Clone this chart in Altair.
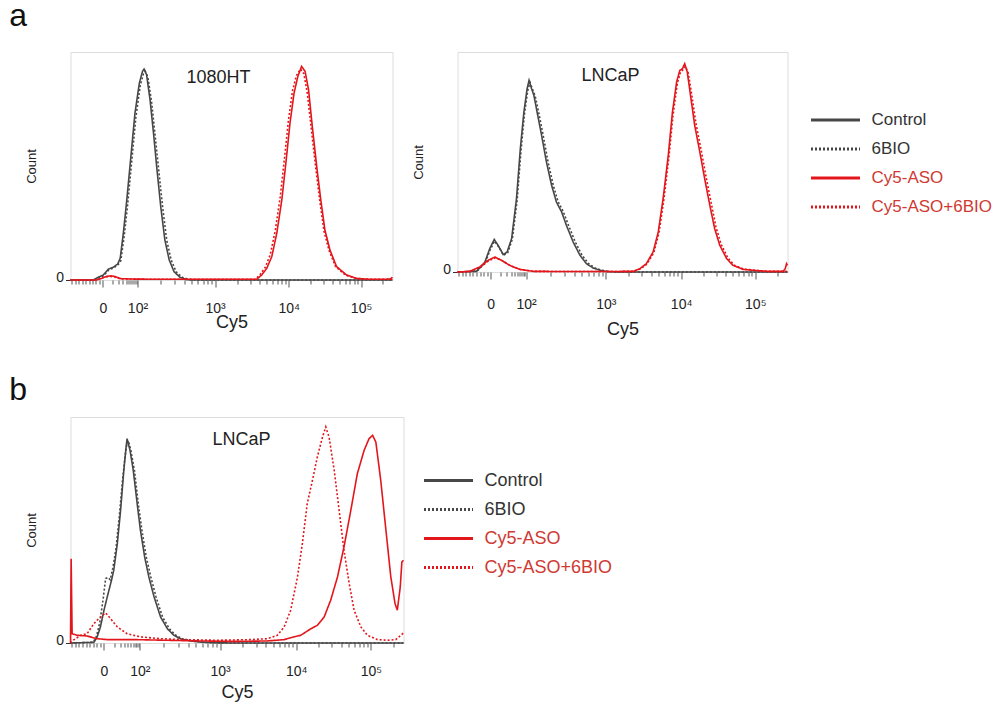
import math
import altair as alt
import pandas as pd

FONT = "Liberation Sans"
SERIES = ["Control", "6BIO", "Cy5-ASO", "Cy5-ASO+6BIO"]
COLORS = ["#474747", "#474747", "#e3161c", "#e3161c"]
DASHES = [[1, 0], [2, 2], [1, 0], [2, 2]]
LEGEND_TEXT_GRAY = "#333333"
LEGEND_TEXT_RED = "#cf3a34"

# x: display channel (0-1024, biexponential), y: count as % of panel height
MAJOR_POS = [103, 213, 460, 694, 924]
MAJOR_LBL = ["0", "10²", "10³", "10⁴", "10⁵"]

# ---------------- panel a, 1080HT ----------------
A1_CTRL_X = [0, 73, 88, 104, 120, 136, 150, 158, 168, 179, 191, 205, 219, 229, 234, 242, 253, 264, 274, 287, 300, 314, 329, 348, 370, 400, 1024]
A1_CTRL_Y = [0, 0, 1.2, 2.2, 4.7, 5.6, 7.0, 9.5, 20.5, 35.1, 52.7, 73.2, 86.4, 91.5, 92.5, 90, 79, 64.4, 49.8, 32.2, 17.6, 8.8, 3.7, 1.2, 0.1, 0, 0]
A1_6BIO_X = [0, 75, 90, 106, 122, 138, 152, 160, 171, 182, 194, 208, 222, 232, 238, 246, 258, 269, 280, 293, 306, 320, 336, 355, 378, 405, 1024]
A1_6BIO_Y = [0, 0, 1.0, 2.0, 4.4, 5.4, 6.8, 8.5, 19.5, 33.5, 51, 71.5, 85.5, 90.5, 91.5, 89, 78, 63.5, 49, 32, 17.5, 8.8, 3.6, 1.2, 0.2, 0, 0]
A1_ASO_X = [0, 83, 100, 115, 130, 142, 160, 200, 300, 400, 500, 592, 608, 624, 640, 656, 672, 686, 698, 711, 723, 735, 746, 757, 769, 783, 796, 809, 825, 846, 878, 910, 952, 1000, 1018, 1024]
A1_ASO_Y = [0, 0, 0.8, 1.6, 1.8, 1.5, 0.6, 0.4, 0.3, 0.3, 0.3, 0.3, 2.2, 5.1, 10.2, 20.5, 35.1, 52.7, 68.8, 82, 89.3, 93.7, 91.5, 83.5, 67.3, 49.8, 35.1, 22, 13.2, 5.9, 2.2, 0.7, 0.3, 0.3, 0.5, 1.2]
A1_ASO6_X = [0, 80, 97, 112, 127, 140, 158, 200, 300, 400, 500, 588, 603, 619, 635, 651, 667, 681, 693, 706, 718, 731, 742, 753, 766, 780, 793, 806, 822, 843, 875, 908, 950, 1000, 1024]
A1_ASO6_Y = [0, 0, 0.7, 1.4, 1.6, 1.3, 0.5, 0.4, 0.3, 0.3, 0.3, 0.3, 2.4, 5.5, 11, 21.5, 36.5, 54, 70, 83, 89.5, 92.5, 90.5, 82, 66, 49, 34.5, 21.5, 13, 5.8, 2.1, 0.7, 0.3, 0.3, 0.3]

# ---------------- panel a, LNCaP ----------------
A2_CTRL_X = [0, 59, 85, 100, 114, 126, 142, 154, 168, 183, 195, 206, 216, 222, 230, 237, 247, 261, 276, 292, 307, 323, 338, 359, 380, 400, 421, 442, 462, 500, 1024]
A2_CTRL_Y = [0, 0.3, 4.5, 10.6, 14.8, 12.1, 7.9, 9.1, 15.2, 33.3, 56.1, 72.7, 83.3, 87.1, 83.3, 80.3, 72.7, 62.1, 50, 39.4, 31.8, 27.3, 21.2, 13.6, 7.6, 3.8, 1.8, 0.8, 0.2, 0, 0]
A2_6BIO_X = [0, 60, 86, 101, 115, 127, 143, 156, 170, 185, 197, 208, 218, 225, 233, 241, 252, 266, 281, 297, 312, 328, 344, 365, 386, 406, 427, 448, 468, 505, 1024]
A2_6BIO_Y = [0, 0.3, 4.2, 10, 14, 11.6, 7.6, 8.8, 14.8, 32.5, 55, 72, 82.5, 86.2, 83, 80, 72.5, 62, 50, 39.5, 32, 27.5, 21.4, 13.8, 7.7, 3.9, 1.8, 0.8, 0.2, 0, 0]
A2_ASO_X = [0, 38, 69, 95, 116, 137, 162, 193, 235, 350, 450, 545, 566, 586, 607, 623, 638, 654, 667, 680, 690, 698, 705, 713, 723, 736, 752, 767, 783, 798, 814, 835, 855, 886, 917, 959, 1010, 1017, 1021, 1024]
A2_ASO_Y = [0, 0.3, 2.3, 5.3, 6.8, 5.3, 3.0, 1.2, 0.3, 0.2, 0.2, 0.3, 1.5, 3.8, 9.1, 18.2, 33.3, 53, 72.7, 86.4, 91.7, 92.4, 94.7, 90.9, 80.3, 66.7, 54.5, 42.4, 30.3, 19.7, 12.1, 6.1, 3.0, 1.2, 0.8, 0.3, 0.3, 1.5, 3.8, 3.0]
A2_ASO6_X = [0, 40, 71, 97, 118, 139, 164, 195, 237, 350, 450, 547, 568, 588, 609, 625, 640, 656, 669, 682, 692, 700, 707, 716, 727, 740, 756, 771, 787, 802, 818, 839, 859, 890, 921, 963, 1010, 1024]
A2_ASO6_Y = [0, 0.3, 2.2, 5.1, 6.5, 5.1, 2.9, 1.1, 0.3, 0.2, 0.2, 0.3, 1.4, 3.6, 8.8, 17.6, 32.5, 52, 71.5, 85.5, 91, 92, 93.5, 90.5, 80.5, 67.5, 55.5, 43.5, 31.5, 20.5, 12.6, 6.4, 3.1, 1.3, 0.8, 0.3, 0.3, 0.3]

# ---------------- panel b, LNCaP ----------------
B_CTRL_X = [0, 72, 82, 92, 103, 113, 126, 133, 144, 154, 164, 171, 174, 183, 193, 205, 215, 228, 241, 257, 277, 298, 318, 339, 369, 400, 441, 500, 1024]
B_CTRL_Y = [0, 0.3, 2.7, 7.1, 14.5, 20.4, 27.7, 32.2, 44, 58.7, 76.4, 86.7, 90.4, 85.3, 76.4, 61.7, 49.9, 38.1, 29.2, 20.4, 11.5, 6.3, 3.4, 1.8, 0.9, 0.4, 0.1, 0, 0]
B_6BIO_X = [0, 70, 80, 90, 100, 108, 115, 122, 130, 140, 150, 160, 168, 174, 178, 186, 197, 209, 220, 233, 247, 263, 283, 304, 324, 345, 375, 405, 445, 500, 1024]
B_6BIO_Y = [0, 0.3, 3, 9, 19, 28.5, 29, 28, 33, 42, 56, 72, 83, 88.5, 89.5, 85, 76, 61, 49.5, 38, 29.2, 20.4, 11.5, 6.3, 3.4, 1.8, 0.9, 0.4, 0.1, 0, 0]
B_ASO_X = [0, 2, 5, 20, 51, 82, 113, 195, 298, 400, 503, 605, 657, 687, 708, 739, 759, 780, 800, 821, 841, 862, 882, 903, 918, 929, 939, 954, 970, 985, 998, 1005, 1014, 1019, 1024]
B_ASO_Y = [0, 37.3, 4.1, 3.4, 3.1, 1.9, 1.5, 1.5, 1.2, 0.9, 0.7, 0.9, 1.5, 2.7, 3.4, 6.3, 7.8, 11.5, 18.9, 29.2, 42.5, 58.7, 74.9, 85.3, 90.4, 91.9, 88.9, 72, 49.9, 29.2, 17.4, 14.5, 24.8, 35.8, 36.6]
B_ASO6_X = [0, 5, 31, 51, 72, 92, 108, 123, 144, 174, 215, 277, 349, 451, 554, 605, 636, 657, 677, 698, 713, 728, 744, 759, 775, 785, 795, 811, 826, 841, 857, 872, 893, 913, 944, 975, 1000, 1016, 1024]
B_ASO6_Y = [0, 0.9, 3.4, 4.1, 8.6, 11.5, 13.3, 10.8, 7.1, 4.1, 2.7, 1.9, 1.5, 1.2, 1.5, 1.9, 3.4, 7.1, 14.5, 29.2, 44, 61.7, 72, 82.3, 91.2, 95.6, 91.2, 76.4, 58.7, 41, 26.3, 14.5, 7.1, 3.4, 1.5, 1.2, 1.5, 3.4, 4.5]


def frame(curves):
    rows = []
    for name, xs, ys in curves:
        for i, (x, y) in enumerate(zip(xs, ys)):
            rows.append({"series": name, "x": x, "y": y, "order": i})
    return pd.DataFrame(rows)


# axis ticks (axis geometry, not data)
minor = []
for k in range(1, 10):
    minor.append(round(MAJOR_POS[0] - 11 * k, 1))
    minor.append(round(MAJOR_POS[0] + (MAJOR_POS[1] - MAJOR_POS[0]) * math.log10(1 + k) / math.log10(11), 1))
for i in range(1, len(MAJOR_POS)):
    lo = MAJOR_POS[i]
    span = (MAJOR_POS[i] - MAJOR_POS[i - 1]) if i == len(MAJOR_POS) - 1 else (MAJOR_POS[i + 1] - MAJOR_POS[i])
    for k in range(2, 10):
        p = round(lo + span * math.log10(k), 1)
        if p < 1024:
            minor.append(p)
minor = [m for m in minor if 0 < m < 1024 and m not in MAJOR_POS]
TICKS = sorted(set(MAJOR_POS + minor))

label_expr = "".join(f"datum.value == {p} ? '{l}' : " for p, l in zip(MAJOR_POS, MAJOR_LBL)) + "''"
major_test = "indexof([" + ",".join(str(p) for p in MAJOR_POS) + "], datum.value) >= 0"

label_color = alt.ExprRef(
    f"(datum.value == 'Control' || datum.value == '6BIO') ? '{LEGEND_TEXT_GRAY}' : '{LEGEND_TEXT_RED}'"
)


def panel(curves, title, w, h, tx, ty, label_pad, title_y, legend=None):
    df = frame(curves)
    if legend is None:
        leg = None
    else:
        lx, ly, lfs = legend
        leg = alt.Legend(
            title=None, orient="none", legendX=lx, legendY=ly, padding=0,
            symbolType="stroke", symbolSize=2400, symbolStrokeWidth=3,
            labelFont=FONT, labelFontSize=lfs, labelOffset=10, rowPadding=11, clipHeight=18,
            labelColor=label_color, labelLimit=300,
        )
    x_axis = alt.Axis(
        values=TICKS, labelExpr=label_expr, title="Cy5", domain=False, grid=False,
        tickSize={"condition": {"test": major_test, "value": 7}, "value": 4},
        tickColor="#555555", tickWidth=1, labelOverlap=False, labelFlush=False,
        labelFont=FONT, labelFontSize=14, labelColor="#222222", labelPadding=label_pad,
        titleFont=FONT, titleFontSize=18, titleFontWeight="normal", titleColor="#222222",
        titleY=title_y, titleBaseline="middle",
    )
    y_axis = alt.Axis(
        values=[0], title="Count", domain=False, grid=False, tickSize=5, tickColor="#333333",
        labelFont=FONT, labelFontSize=14, labelColor="#222222", labelPadding=2, labelOffset=-3,
        titleFont=FONT, titleFontSize=13, titleFontWeight="normal", titleColor="#222222",
        titlePadding=17,
    )
    lines = alt.Chart(df).mark_line(strokeWidth=1.6, interpolate="linear").encode(
        x=alt.X("x:Q", scale=alt.Scale(domain=[0, 1024], nice=False, zero=False), axis=x_axis),
        y=alt.Y("y:Q", scale=alt.Scale(domain=[0, 100], nice=False), axis=y_axis),
        color=alt.Color("series:N", scale=alt.Scale(domain=SERIES, range=COLORS), legend=leg),
        strokeDash=alt.StrokeDash("series:N", scale=alt.Scale(domain=SERIES, range=DASHES), legend=leg),
        order="order:Q",
    )
    label = alt.Chart(pd.DataFrame({"t": [title]})).mark_text(
        font=FONT, fontSize=18, color="#222222", align="center", baseline="middle"
    ).encode(text="t:N", x=alt.value(tx), y=alt.value(ty))
    return alt.layer(lines, label).properties(width=w, height=h)


a1 = panel([
    ("Control", A1_CTRL_X, A1_CTRL_Y), ("6BIO", A1_6BIO_X, A1_6BIO_Y),
    ("Cy5-ASO", A1_ASO_X, A1_ASO_Y), ("Cy5-ASO+6BIO", A1_ASO6_X, A1_ASO6_Y),
], "1080HT", 322, 228, 148, 25.5, 14, 42)

a2 = panel([
    ("Control", A2_CTRL_X, A2_CTRL_Y), ("6BIO", A2_6BIO_X, A2_6BIO_Y),
    ("Cy5-ASO", A2_ASO_X, A2_ASO_Y), ("Cy5-ASO+6BIO", A2_ASO6_X, A2_ASO6_Y),
], "LNCaP", 330, 220, 153, 23.5, 18, 57.5, legend=(352, 59, 17))

b = panel([
    ("Control", B_CTRL_X, B_CTRL_Y), ("6BIO", B_6BIO_X, B_6BIO_Y),
    ("Cy5-ASO", B_ASO_X, B_ASO_Y), ("Cy5-ASO+6BIO", B_ASO6_X, B_ASO6_Y),
], "LNCaP", 333, 226, 171, 22.5, 14, 49, legend=(352, 54.5, 18))


def letter(t, offset):
    return alt.TitleParams(t, anchor="start", fontSize=32, font=FONT, fontWeight="normal",
                           color="#111111", dx=-16, offset=offset)


row1 = alt.hconcat(a1, a2, spacing=15, title=letter("a", 19)).resolve_scale(
    color="independent", strokeDash="independent")
row2 = alt.hconcat(b, title=letter("b", 10)).resolve_scale(
    color="independent", strokeDash="independent")

chart = alt.vconcat(row1, row2, spacing=34).resolve_scale(
    color="independent", strokeDash="independent"
).properties(padding={"left": 0.5, "top": -9, "right": 0, "bottom": 0}).configure_view(
    stroke="#333333", strokeWidth=1.5
).configure(font=FONT, background="white")

chart.save("out.html", embed_options={"renderer": "svg", "actions": False})
